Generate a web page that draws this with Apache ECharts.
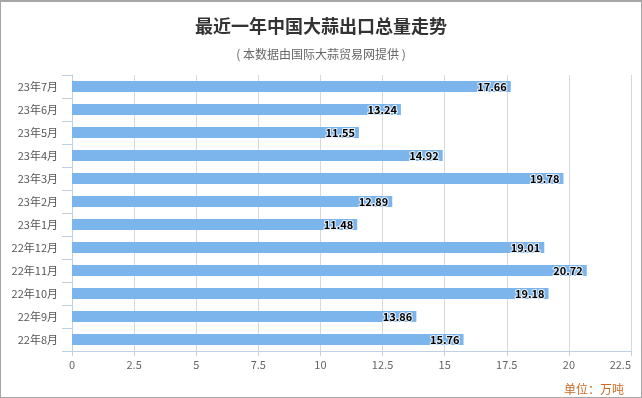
<!DOCTYPE html>
<html>
<head>
<meta charset="utf-8">
<script src="https://cdn.jsdelivr.net/npm/echarts@6/dist/echarts.min.js"></script>
<style>
  html, body { margin: 0; padding: 0; background: #fff; }
  #main { width: 642px; height: 398px; box-sizing: border-box; border: 1px solid #a6a6a6; border-top-width: 2px; }
</style>
</head>
<body>
<div id="main"></div>
<script>
// months, bottom to top as drawn
var months = ['22年8月', '22年9月', '22年10月', '22年11月', '22年12月', '23年1月',
  '23年2月', '23年3月', '23年4月', '23年5月', '23年6月', '23年7月'];
// export volume, 10k tonnes
var volumes = [15.76, 13.86, 19.18, 20.72, 19.01, 11.48, 12.89, 19.78, 14.92, 11.55, 13.24, 17.66];

var titleText = '最近一年中国大蒜出口总量走势';
var subText = '( 本数据由国际大蒜贸易网提供 )';
var unitText = '单位：万吨';

window.onload = function () {
  var chart = echarts.init(document.getElementById('main'));
  var font = '"Microsoft YaHei", "Noto Sans CJK SC", sans-serif';

  var option = {
    animation: false,
    title: [
      {
        text: titleText,
        left: 'center',
        top: 10,
        textStyle: { fontFamily: font, fontSize: 18, fontWeight: 'bold', color: '#333' }
      },
      {
        text: subText,
        left: 'center',
        top: 41,
        textStyle: { fontFamily: font, fontSize: 12, fontWeight: 'normal', color: '#666' }
      },
      {
        text: unitText,
        right: 12,
        top: 376,
        textStyle: { fontFamily: font, fontSize: 12, fontWeight: 'normal', color: '#cc6a22' }
      }
    ],
    grid: {
      left: 71,
      right: 10,
      top: 73,
      bottom: 46
    },
    xAxis: {
      type: 'value',
      min: 0,
      max: 22.5,
      interval: 2.5,
      axisLine: { show: true, lineStyle: { color: '#c0d0e0' } },
      axisTick: { show: true, length: 5, lineStyle: { color: '#c0d0e0' } },
      axisLabel: {
        color: '#666',
        fontFamily: font,
        fontSize: 11,
        margin: 8,
        alignMaxLabel: 'right'
      },
      splitLine: { show: true, lineStyle: { color: '#d8d8d8' } }
    },
    yAxis: {
      type: 'category',
      data: months,
      axisLine: { show: true, lineStyle: { color: '#c0d0e0' } },
      axisTick: { show: true, length: 10, lineStyle: { color: '#c0d0e0' } },
      axisLabel: { color: '#555', fontFamily: font, fontSize: 11, margin: 14 }
    },
    series: [
      {
        type: 'bar',
        data: volumes,
        barWidth: 11,
        itemStyle: { color: '#7cb5ec' },
        label: {
          show: true,
          position: 'insideRight',
          distance: 4,
          color: '#000',
          fontFamily: font,
          fontSize: 11,
          fontWeight: 'bold',
          textBorderColor: 'rgba(255,255,255,0.8)',
          textBorderWidth: 2
        }
      }
    ]
  };

  chart.setOption(option);
};
</script>
</body>
</html>
